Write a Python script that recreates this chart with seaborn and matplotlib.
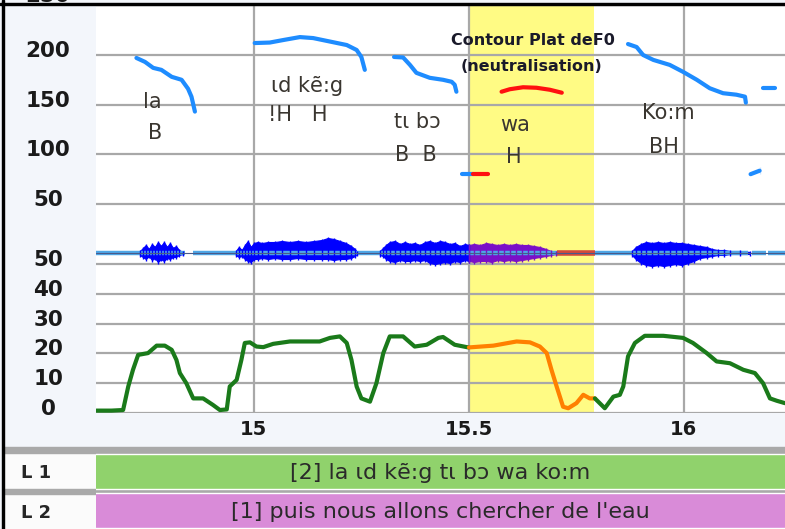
import numpy as np
import pandas as pd
import matplotlib
matplotlib.use("Agg")
import matplotlib.pyplot as plt
import matplotlib.transforms as mtransforms
from matplotlib.patches import Rectangle
import seaborn as sns

# F0 (Hz) par segment
f0_la_t = [14.727, 14.747, 14.766, 14.785, 14.809, 14.832, 14.847, 14.855, 14.863]
f0_la_hz = [197, 193, 187, 185, 178, 175, 166, 158, 143]
f0_kg_t = [15.002, 15.037, 15.068, 15.107, 15.138, 15.177, 15.216, 15.239, 15.250, 15.258]
f0_kg_hz = [212, 212.5, 215, 218, 217, 213.5, 210, 205, 198, 185]
f0_tb_t = [15.326, 15.347, 15.363, 15.378, 15.409, 15.440, 15.460, 15.467, 15.471]
f0_tb_hz = [198, 197.5, 190, 182, 177, 175, 173, 170, 163]
f0_low_t = [15.483, 15.510]
f0_low_hz = [80, 80]
f0_lowred_t = [15.510, 15.545]
f0_lowred_hz = [80, 80]
f0_wa_t = [15.576, 15.595, 15.626, 15.657, 15.688, 15.716]
f0_wa_hz = [163, 165.5, 167.5, 167, 165, 162]
f0_kom_t = [15.870, 15.890, 15.905, 15.929, 15.967, 15.998, 16.030, 16.060, 16.091, 16.122, 16.142, 16.144]
f0_kom_hz = [211, 208, 200, 195, 190, 183, 175, 166.5, 161.5, 160, 158, 152]
f0_end_t = [16.184, 16.212]
f0_end_hz = [167, 167]
f0_blip_t = [16.155, 16.176, 16.176]
f0_blip_hz = [80, 80, 87]

# intensité (dB)
int1_t = [14.634, 14.669, 14.696, 14.708, 14.719, 14.731, 14.754, 14.774, 14.793, 14.809,
          14.820, 14.828, 14.843, 14.859, 14.882, 14.905, 14.921, 14.937, 14.944, 14.960,
          14.971, 14.979, 14.991, 15.006, 15.022, 15.045, 15.084, 15.153, 15.177, 15.200,
          15.216, 15.227, 15.239, 15.250, 15.270, 15.285, 15.301, 15.316, 15.347, 15.374,
          15.402, 15.429, 15.440, 15.467, 15.495, 15.500]
int1_db = [0.8, 0.8, 1.0, 8.9, 14.5, 19.5, 20.1, 22.6, 22.6, 21.2,
           17.8, 13.4, 10.0, 4.9, 4.9, 2.7, 1.0, 1.2, 8.9, 11.1,
           17.8, 23.5, 23.7, 22.3, 22.1, 23.2, 24.0, 24.0, 25.2, 25.7,
           23.5, 17.8, 8.9, 4.9, 3.8, 10.0, 20.1, 25.7, 25.7, 22.3,
           22.9, 25.2, 25.5, 22.9, 22.1, 22.0]
int2_t = [15.500, 15.557, 15.611, 15.642, 15.665, 15.681, 15.692, 15.704, 15.719, 15.731,
          15.750, 15.766, 15.781, 15.793]
int2_db = [22.0, 22.6, 24.0, 23.7, 22.3, 20.1, 14.5, 8.9, 2.1, 1.6,
           3.3, 6.1, 4.9, 4.9]
int3_t = [15.793, 15.816, 15.836, 15.851, 15.859, 15.870, 15.886, 15.909, 15.952, 15.998,
          16.021, 16.053, 16.076, 16.107, 16.138, 16.165, 16.184, 16.200, 16.216, 16.235]
int3_db = [4.9, 1.6, 5.5, 6.1, 8.9, 19.0, 23.5, 25.9, 25.9, 25.2,
           23.5, 20.1, 17.3, 16.7, 14.5, 13.4, 10.0, 4.9, 4.1, 3.3]

# onde : enveloppes (haut / bas) par syllabe
w1_t = [14.735, 14.742, 14.749, 14.756, 14.763, 14.770, 14.777, 14.784, 14.791, 14.798,
        14.805, 14.812, 14.819, 14.826, 14.835]
w1_up = [2, 5, 8, 4, 9, 6, 11, 7, 11, 6, 10, 5, 7, 3, 1]
w1_lo = [2, 4, 6, 3, 7, 5, 9, 6, 8, 5, 6, 4, 4, 2, 1]
w2_t = [14.958, 14.965, 14.972, 14.979, 14.986, 14.993, 15.000, 15.009, 15.019, 15.033,
        15.049, 15.065, 15.084, 15.102, 15.121, 15.140, 15.158, 15.172, 15.186, 15.200,
        15.214, 15.226, 15.235, 15.240]
w2_up = [2, 6, 3, 8, 12, 6, 10, 11, 10, 11, 11, 12, 11, 12, 11, 12, 13, 15, 14, 12, 10, 7, 4, 1]
w2_lo = [2, 4, 3, 6, 8, 9, 6, 6, 5, 6, 5, 6, 6, 5, 6, 6, 6, 6, 7, 6, 6, 5, 3, 1]
w3_t = [15.293, 15.300, 15.307, 15.316, 15.328, 15.340, 15.351, 15.363, 15.374, 15.386,
        15.398, 15.409, 15.421, 15.433, 15.444, 15.456, 15.467, 15.479, 15.491, 15.500]
w3_up = [2, 5, 8, 11, 12, 9, 11, 9, 10, 8, 11, 12, 10, 12, 11, 9, 10, 7, 9, 8]
w3_lo = [2, 3, 6, 8, 9, 7, 8, 8, 7, 8, 7, 10, 11, 10, 9, 10, 8, 9, 7, 8]
w3p_t = [15.500, 15.512, 15.526, 15.540, 15.553, 15.567, 15.581, 15.595, 15.609, 15.623,
         15.637, 15.651, 15.665, 15.679, 15.691, 15.702]
w3p_up = [8, 9, 8, 10, 9, 8, 9, 8, 9, 8, 8, 7, 6, 4, 2, 1]
w3p_lo = [8, 9, 8, 8, 9, 7, 8, 7, 8, 7, 6, 5, 4, 3, 2, 1]
w4_t = [15.879, 15.888, 15.900, 15.912, 15.926, 15.940, 15.953, 15.967, 15.981, 15.995,
        16.009, 16.023, 16.037, 16.053, 16.065, 16.079, 16.093, 16.107, 16.130, 16.153]
w4_up = [2, 6, 9, 11, 10, 11, 10, 11, 10, 10, 9, 8, 7, 6, 4, 3, 3, 2, 2, 1]
w4_lo = [2, 6, 10, 12, 13, 12, 13, 12, 11, 12, 10, 8, 5, 4, 3, 2, 2, 1, 1, 1]
base_start = [14.633, 14.858, 15.793, 16.158, 16.196]
base_end = [14.840, 15.705, 16.150, 16.190, 16.235]
silence_t = [15.705, 15.793]

# annotations
syll_text = ["la", "ɩd kẽ:g", "tɩ bɔ", "wa", "Ko:m"]
syll_t = [14.765, 15.123, 15.381, 15.607, 15.963]
syll_hz = [153, 169, 133, 129.5, 141.3]
tone_text = ["B", "!H   H", "B  B", "H", "BH"]
tone_t = [14.770, 15.101, 15.377, 15.605, 15.953]
tone_hz = [121, 139.6, 99.3, 97.6, 107.7]

f0_ticks = [50, 100, 150, 200, 250]
db_ticks = [0, 10, 20, 30, 40, 50]
time_ticks = [15, 15.5, 16]
time_labels = ["15", "15.5", "16"]
zone = [15.5, 15.79]
xmin, xmax = 14.633, 16.235

tiers = ["L 1", "L 2"]
tier_text = ["[2] la ɩd kẽ:g tɩ bɔ wa ko:m", "[1] puis nous allons chercher de l'eau"]
tier_start = [14.5, 14.5]
tier_end = [16.4, 16.4]

# ---- figure ----
sns.set_style("white")
plt.rcParams["font.family"] = ["DejaVu Sans"]

W, H = 785, 529
fig = plt.figure(figsize=(W / 100, H / 100), dpi=100, facecolor="#f3f6fb")


def box(x0, y0, x1, y1):
    return [x0 / W, 1 - y1 / H, (x1 - x0) / W, (y1 - y0) / H]


ax_f0 = fig.add_axes(box(96, 5, 785, 230))
ax_int = fig.add_axes(box(96, 230, 785, 413))
ax_wave = fig.add_axes(box(96, 233, 785, 273))
ax_tier = fig.add_axes(box(96, 452, 785, 530))

grid_c = "#a8a8a8"
lab_shift = mtransforms.ScaledTranslation(0, 6 / 100, fig.dpi_scale_trans)
top_shift = mtransforms.ScaledTranslation(0, 5 / 100, fig.dpi_scale_trans)

for ax in (ax_f0, ax_int):
    ax.set_facecolor("white")
    ax.set_xlim(xmin, xmax)
    ax.axvspan(zone[0], zone[1], color="#fffb84", zorder=0.1, lw=0)
    ax.set_xticks(time_ticks)
    ax.grid(True, color=grid_c, lw=1.6)
    ax.set_axisbelow(True)
    for s in ax.spines.values():
        s.set_visible(False)
    ax.tick_params(axis="y", length=0, pad=34.5, labelsize=15.5)
    ax.tick_params(axis="x", length=0)

ax_f0.set_ylim(23.8, 250.3)
ax_f0.set_yticks(f0_ticks)
ax_f0.set_xticklabels([])
ax_int.set_ylim(0, 61.4)
ax_int.set_yticks(db_ticks)
ax_int.set_xticks(time_ticks)
ax_int.set_xticklabels(time_labels)
ax_int.tick_params(axis="x", pad=5, labelsize=14)
for ax in (ax_f0, ax_int):
    for lab in ax.get_yticklabels():
        lab.set_horizontalalignment("center")
        lab.set_fontweight("bold")
        lab.set_color("#1a1a1a")
        lab.set_transform(lab.get_transform() + lab_shift)
top_lab = ax_f0.get_yticklabels()[-1]
top_lab.set_transform(top_lab.get_transform() + top_shift)
for lab in ax_int.get_xticklabels():
    lab.set_fontweight("bold")
    lab.set_color("#1a1a1a")

# F0
blue, red = "#1e8cff", "#ff1010"
segs = [(f0_la_t, f0_la_hz, blue), (f0_kg_t, f0_kg_hz, blue), (f0_tb_t, f0_tb_hz, blue),
        (f0_low_t, f0_low_hz, blue), (f0_lowred_t, f0_lowred_hz, red),
        (f0_wa_t, f0_wa_hz, red), (f0_kom_t, f0_kom_hz, blue),
        (f0_end_t, f0_end_hz, blue), (f0_blip_t, f0_blip_hz, blue)]
for t, hz, c in segs:
    sns.lineplot(x=t, y=hz, ax=ax_f0, color=c, lw=3, sort=False)

txt_c = "#3a3630"
for s, t, hz in zip(syll_text, syll_t, syll_hz):
    ax_f0.text(t, hz, s, ha="center", va="center", fontsize=15, color=txt_c)
for s, t, hz in zip(tone_text, tone_t, tone_hz):
    ax_f0.text(t, hz, s, ha="center", va="center", fontsize=15, color=txt_c)
ax_f0.text(15.649, 215, "Contour Plat deF0", ha="center", va="center",
           fontsize=11.5, fontweight="bold", color="#1a1a2a")
ax_f0.text(15.646, 188.5, "(neutralisation)", ha="center", va="center",
           fontsize=11.5, fontweight="bold", color="#1a1a2a")

# intensité
green, orange = "#1a7a1a", "#ff8000"
sns.lineplot(x=int1_t, y=int1_db, ax=ax_int, color=green, lw=3, sort=False)
sns.lineplot(x=int2_t, y=int2_db, ax=ax_int, color=orange, lw=3, sort=False)
sns.lineplot(x=int3_t, y=int3_db, ax=ax_int, color=green, lw=3, sort=False)

# onde
ax_wave.set_xlim(xmin, xmax)
ax_wave.set_ylim(-20, 20)
ax_wave.axis("off")
for a, b in zip(base_start, base_end):
    ax_wave.plot([a, b], [0, 0], color="#4ea6e6", lw=3.2, solid_capstyle="butt")
ax_wave.plot(silence_t, [0, 0], color="#d24a3c", lw=4, solid_capstyle="butt")
for t, up, lo, c in [(w1_t, w1_up, w1_lo, "#0000ff"), (w2_t, w2_up, w2_lo, "#0000ff"),
                     (w3_t, w3_up, w3_lo, "#0000ff"), (w3p_t, w3p_up, w3p_lo, "#7a10c8"),
                     (w4_t, w4_up, w4_lo, "#0000ff")]:
    ax_wave.fill_between(t, up, -np.array(lo), color=c, lw=0.8, edgecolor=c)
    ax_wave.vlines(t, -np.array(lo) - 1.5, np.array(up) + 1.5, color=c, lw=1)
ax_wave.plot([xmin, xmax], [0, 0], color="#4a5a8a", lw=0.8)

# tiers
ax_tier.set_xlim(xmin, xmax)
ax_tier.set_ylim(1.5, -0.5)
ax_tier.barh([0, 1], np.array(tier_end) - np.array(tier_start), left=tier_start,
             height=0.88, color=["#90d26c", "#d98bd8"])
for i, s in enumerate(tier_text):
    ax_tier.text((xmin + xmax) / 2, i + 0.05, s, ha="center", va="center",
                 fontsize=16, color="#2a2a2a")
ax_tier.set_yticks([0, 1])
ax_tier.set_yticklabels(tiers)
ax_tier.set_xticks([])
ax_tier.tick_params(axis="y", length=0, pad=43, labelsize=13)
for lab in ax_tier.get_yticklabels():
    lab.set_horizontalalignment("center")
    lab.set_fontweight("bold")
for s in ax_tier.spines.values():
    s.set_visible(False)
ax_tier.set_facecolor("none")

# cadres
for y0, y1 in [(453, 490), (493, 529)]:
    fig.add_artist(Rectangle((3 / W, 1 - y1 / H), 92 / W, (y1 - y0) / H,
                             transform=fig.transFigure, color="#fbfbfb", zorder=-1))
for y0, y1 in [(447, 453), (489, 494)]:
    fig.add_artist(Rectangle((3 / W, 1 - y1 / H), (W - 3) / W, (y1 - y0) / H,
                             transform=fig.transFigure, color="#a9a9a9", zorder=-1))
fig.add_artist(Rectangle((0, 1 - 5 / H), 1, 2 / H, transform=fig.transFigure, color="black"))
fig.add_artist(Rectangle((2 / W, 0), 2 / W, 1, transform=fig.transFigure, color="black"))

fig.savefig("out.png", dpi=100, facecolor=fig.get_facecolor())
